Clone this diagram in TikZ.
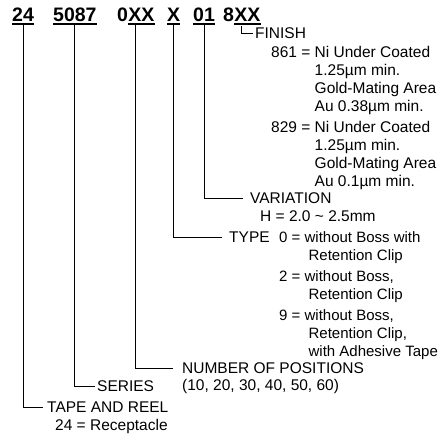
\documentclass[tikz,border=0pt]{standalone}
\usepackage{fontspec}
\setmainfont{Liberation Sans}
\tikzset{
  lead/.style      = {line width=0.8pt},
  uline/.style     = {line width=1.6pt},
  code/.style      = {font=\bfseries\fontsize{19.5}{20}\selectfont,
                      inner sep=0pt, anchor=base west},
  annot/.style     = {font=\fontsize{15.5}{18}\selectfont,
                      inner sep=0pt, anchor=west},
  annotlist/.style = {annot, anchor=base west},
}

\begin{document}
\begin{tikzpicture}[x=1pt,y=-1pt]
  \useasboundingbox (0,0) rectangle (445,441);

  % ---- part number -------------------------------------------------------
  \node[code] (h24)   at (12,22)  {24};
  \node[code] (h5087) at (53,22)  {5087};
  \node[code] (hzero) at (117,22) {0};
  \node[code] (hpos)  at (hzero.base east) {XX};
  \node[code] (htype) at (167,22) {X};
  \node[code] (hvar)  at (193,22) {01};
  \node[code] (heig)  at (223,22) {8};
  \node[code] (hfin)  at (heig.base east) {XX};
  \foreach \n in {h24,h5087,hpos,htype,hvar,hfin}
    \draw[uline] ([yshift=-2pt]\n.base west) -- ([yshift=-2pt]\n.base east);

  % ---- finish ------------------------------------------------------------
  \node[annot] (finish) at (255,33) {FINISH};
  \node[annotlist] (finlist) at (271,57.5) {%
    \begin{tabular}[t]{@{}l@{ }l@{}}
      861 = & Ni Under Coated\\
            & 1.25µm min.\\
            & Gold-Mating Area\\
            & Au 0.38µm min.\\[3pt]
      829 = & Ni Under Coated\\
            & 1.25µm min.\\
            & Gold-Mating Area\\
            & Au 0.1µm min.
    \end{tabular}};

  % ---- variation ---------------------------------------------------------
  \node[annot] (variation) at (250,198) {VARIATION};
  \node[annot] (varlist)   at (260,216) {H = 2.0 \textasciitilde{} 2.5mm};

  % ---- type --------------------------------------------------------------
  \node[annot] (type) at (229,237) {TYPE};
  \node[annotlist, font=\fontsize{15}{18}\selectfont] (typelist) at (279,242.5) {%
    \begin{tabular}[t]{@{}l@{ }l@{}}
      0 = & without Boss with\\
          & \hspace*{4pt}Retention Clip\\[3pt]
      2 = & without Boss,\\
          & \hspace*{4pt}Retention Clip\\[3pt]
      9 = & without Boss,\\
          & \hspace*{4pt}Retention Clip,\\
          & \hspace*{4pt}with Adhesive Tape
    \end{tabular}};

  % ---- positions, series, tape and reel ----------------------------------
  \node[annot] (number)  at (182,368) {NUMBER OF POSITIONS};
  \node[annot] (numlist) at (182,386) {(10, 20, 30, 40, 50, 60)};
  \node[annot] (series)  at (97,386)  {SERIES};
  \node[annot] (tape)    at (47,407)  {TAPE AND REEL};
  \node[annot] (tapelist) at (55,426) {24 = Receptacle};

  % ---- leads from the code down to the labels ----------------------------
  \draw[lead] ([yshift=-2pt]h24.base)   |- ([xshift=-4pt]tape.west);
  \draw[lead] ([yshift=-2pt]h5087.base) |- ([xshift=-2pt]series.west);
  \draw[lead] ([xshift=-6.5pt,yshift=-2pt]hpos.base) |- ([xshift=-9pt]number.west);
  \draw[lead] ([yshift=-2pt]htype.base) |- ([xshift=-7pt]type.west);
  \draw[lead] ([yshift=-2pt]hvar.base)  |- ([xshift=-7pt]variation.west);
  \draw[lead] ([xshift=-6.5pt,yshift=-4pt]hfin.base) |- ([xshift=-2pt]finish.west);
\end{tikzpicture}
\end{document}
